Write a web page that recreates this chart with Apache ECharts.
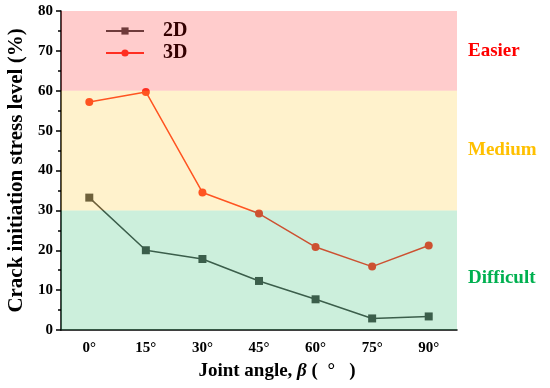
<!DOCTYPE html>
<html><head><meta charset="utf-8">
<script src="https://cdn.jsdelivr.net/npm/echarts@6/dist/echarts.min.js"></script>
<style>html,body{margin:0;padding:0;background:#fff}#c{width:550px;height:388px}</style>
</head><body><div id="c"></div>
<script>
var categories = ['0°','15°','30°','45°','60°','75°','90°'];
var values2D = [33.2, 20.0, 17.8, 12.3, 7.7, 2.9, 3.4];
var values3D = [57.2, 59.7, 34.5, 29.2, 20.8, 15.9, 21.2];
var bandNames = ['Easier','Medium','Difficult'];
var bandRanges = [[60,80],[30,60],[0,30]];
var bandColors = ['#ff0000','#ffc000','#00b050'];

var F = '"Liberation Serif","Times New Roman",serif';
function rgba(hex,a){var r=parseInt(hex.substr(1,2),16),g=parseInt(hex.substr(3,2),16),b=parseInt(hex.substr(5,2),16);return 'rgba('+r+','+g+','+b+','+a+')';}
var areas = bandNames.map(function(n,i){
  return [{yAxis: bandRanges[i][0], name: n, itemStyle:{color: rgba(bandColors[i],0.2)},
           label:{color: bandColors[i], offset: i===2?[0,8]:[0,0]}},
          {yAxis: bandRanges[i][1]}];
});
var chart = echarts.init(document.getElementById('c'));
chart.setOption({
  animation:false,
  grid:{left:61,right:93,top:11,bottom:58,outerBoundsMode:'none',containLabel:false},
  legend:{
    orient:'vertical', left:105, top:20, itemWidth:38, itemHeight:9, itemGap:0, z:1, padding:[0,0,0,0],
    textStyle:{fontFamily:F,fontWeight:'bold',fontSize:20,color:'#000',padding:[0,0,0,14],lineHeight:22},
    data:['2D','3D']
  },
  xAxis:[{
    type:'category', data:categories, boundaryGap:true, position:'bottom',
    axisLine:{onZero:false,lineStyle:{color:'#000',width:1.5}},
    axisTick:{alignWithLabel:true,length:5,lineStyle:{color:'#000',width:1.5}},
    axisLabel:{fontFamily:F,fontWeight:'bold',fontSize:15,color:'#000',margin:11},
    name:'Joint angle, {i|β} (  °   )', nameLocation:'middle', nameGap:32,
    nameTextStyle:{fontFamily:F,fontWeight:'bold',fontSize:19,color:'#000',padding:[0,0,0,36],
      rich:{i:{fontFamily:F,fontWeight:'bold',fontStyle:'italic',fontSize:19,color:'#000'}}}
  },{
    type:'category', data:categories, boundaryGap:true, position:'bottom',
    axisLine:{show:false,onZero:false},
    axisTick:{length:3,lineStyle:{color:'#000',width:1.5}},
    axisLabel:{show:false}
  }],
  yAxis:{
    type:'value', min:0, max:80, interval:10,
    axisLine:{show:true,lineStyle:{color:'#000',width:1.5}},
    axisTick:{show:true,length:5,lineStyle:{color:'#000',width:1.5}},
    minorTick:{show:true,splitNumber:2,length:3,lineStyle:{color:'#000',width:1.5}},
    splitLine:{show:false},
    axisLabel:{fontFamily:F,fontWeight:'bold',fontSize:15,color:'#000',margin:8},
    name:'Crack initiation stress level (%)', nameLocation:'middle', nameGap:31,
    nameTextStyle:{fontFamily:F,fontWeight:'bold',fontSize:21,color:'#000'}
  },
  series:[
    {name:'2D',type:'line',data:values2D,symbol:'rect',symbolSize:8,z:2,
     itemStyle:{color:'#4a4a4a'},lineStyle:{color:'#4a4a4a',width:1.5}},
    {name:'3D',type:'line',data:values3D,symbol:'circle',symbolSize:8,z:2,
     itemStyle:{color:'#ff3a2a'},lineStyle:{color:'#ff3a2a',width:1.5}},
    {name:'bands',type:'line',data:[],z:10,silent:true,
     markArea:{silent:true,z:10,
       label:{show:true,position:'right',distance:11,fontFamily:F,fontWeight:'bold',fontSize:19},
       data:areas}}
  ]
});
</script></body></html>
